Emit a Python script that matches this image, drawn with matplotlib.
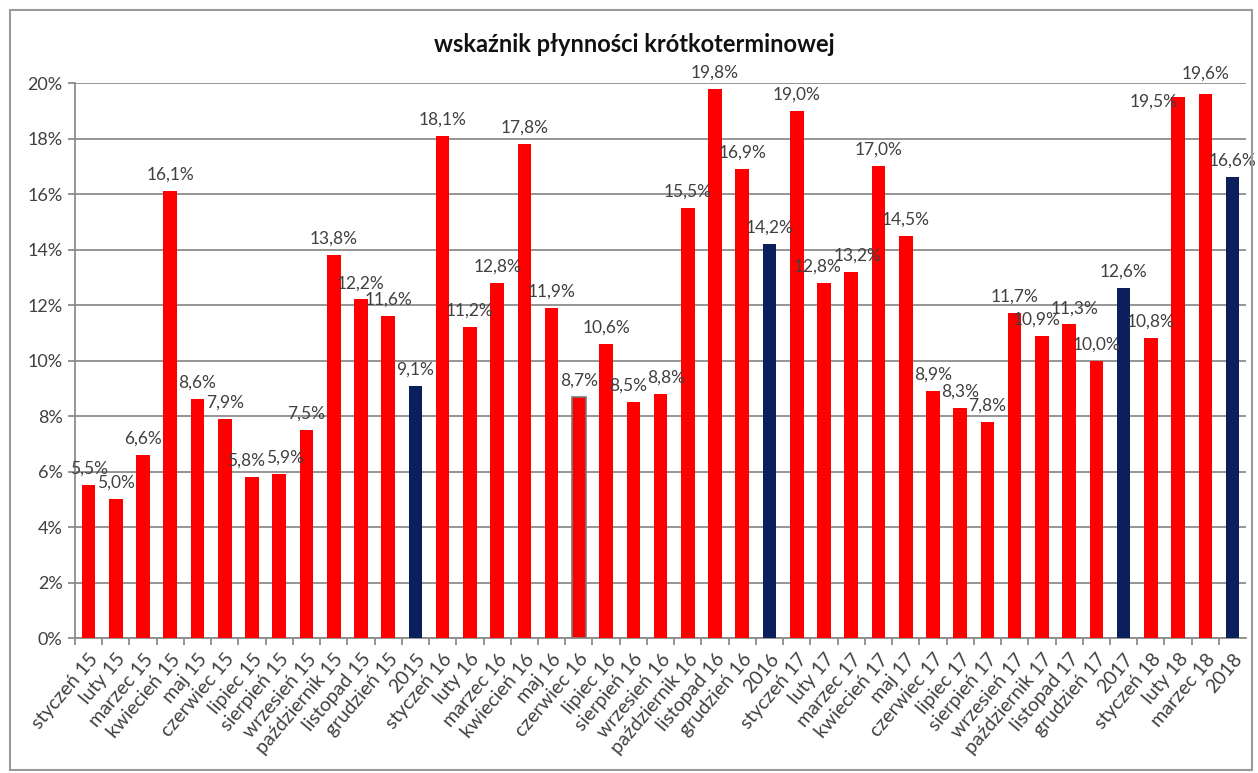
import matplotlib
matplotlib.use("Agg")
import matplotlib.pyplot as plt
from matplotlib.patches import Rectangle

categories = [
    "styczeń 15", "luty 15", "marzec 15", "kwiecień 15", "maj 15", "czerwiec 15",
    "lipiec 15", "sierpień 15", "wrzesień 15", "październik 15", "listopad 15",
    "grudzień 15", "2015",
    "styczeń 16", "luty 16", "marzec 16", "kwiecień 16", "maj 16", "czerwiec 16",
    "lipiec 16", "sierpień 16", "wrzesień 16", "październik 16", "listopad 16",
    "grudzień 16", "2016",
    "styczeń 17", "luty 17", "marzec 17", "kwiecień 17", "maj 17", "czerwiec 17",
    "lipiec 17", "sierpień 17", "wrzesień 17", "październik 17", "listopad 17",
    "grudzień 17", "2017",
    "styczeń 18", "luty 18", "marzec 18", "2018",
]
values = [
    5.5, 5.0, 6.6, 16.1, 8.6, 7.9, 5.8, 5.9, 7.5, 13.8, 12.2, 11.6, 9.1,
    18.1, 11.2, 12.8, 17.8, 11.9, 8.7, 10.6, 8.5, 8.8, 15.5, 19.8, 16.9, 14.2,
    19.0, 12.8, 13.2, 17.0, 14.5, 8.9, 8.3, 7.8, 11.7, 10.9, 11.3, 10.0, 12.6,
    10.8, 19.5, 19.6, 16.6,
]
yearly = {"2015", "2016", "2017", "2018"}
outlined = {"czerwiec 16"}

# label nudges (x in category units, y in percentage points) for crowded pairs
label_nudge = {
    "lipiec 15": (-0.22, 0.0), "sierpień 15": (0.22, 0.0),
    "sierpień 16": (-0.2, 0.0), "wrzesień 16": (0.2, 0.0),
    "luty 17": (-0.22, 0.0), "marzec 17": (0.22, 0.0),
    "październik 17": (-0.2, 0.0), "listopad 17": (0.2, 0.0),
    "luty 18": (-0.9, -0.75), "marzec 18": (0.0, 0.15),
}

RED = "#ff0000"
NAVY = "#0b1f5c"
TEXT = "#404040"
GRID = "#8c8c8c"

plt.rcParams["font.family"] = ["Lato", "DejaVu Sans"]

fig = plt.figure(figsize=(12.58, 7.73), dpi=100)
ax = fig.add_axes([0.0596, 0.1746, 0.931, 0.718])

x = list(range(len(categories)))
colors = [NAVY if c in yearly else RED for c in categories]
bars = ax.bar(x, values, width=0.5, color=colors, zorder=3)
for b, c in zip(bars, categories):
    if c in outlined:
        b.set_edgecolor("#7a7a7a")
        b.set_linewidth(1.2)

for xi, v, c in zip(x, values, categories):
    dx, dy = label_nudge.get(c, (0.0, 0.0))
    ax.text(xi + dx, v + 0.3 + dy, f"{v:.1f}%".replace(".", ","), ha="center",
            va="bottom", fontsize=12.5, color=TEXT, zorder=4)

ax.set_xlim(-0.5, len(categories) - 0.5)
ax.set_ylim(0, 20)
ax.set_yticks(range(0, 21, 2))
ax.set_yticklabels([f"{t}%" for t in range(0, 21, 2)], fontsize=13, color=TEXT)
ax.yaxis.grid(True, color=GRID, linewidth=1.3, zorder=0)

ax.set_xticks([i + 0.5 for i in x[:-1]] + [-0.5], minor=False)
ax.set_xticks(x, minor=True)
ax.set_xticklabels([""] * len(x), minor=False)
ax.set_xticklabels(categories, minor=True, rotation=50, ha="right",
                   rotation_mode="anchor", fontsize=14, color=TEXT)
ax.tick_params(axis="x", which="minor", length=0, pad=9)
ax.tick_params(axis="x", which="major", length=5, color=GRID, width=1.3)
ax.tick_params(axis="y", length=5, color=GRID, width=1.3, pad=4)

for s in ("top", "right"):
    ax.spines[s].set_visible(False)
for s in ("left", "bottom"):
    ax.spines[s].set_color(GRID)
    ax.spines[s].set_linewidth(1.3)

fig.text(0.504, 0.942, "wskaźnik płynności krótkoterminowej", ha="center",
         va="center", fontsize=17, fontweight="bold", color="#111111")

fig.patches.append(Rectangle((0.008, 0.004), 0.987, 0.983, transform=fig.transFigure,
                             fill=False, edgecolor="#9a9a9a", linewidth=1.5))

fig.savefig("out.png", dpi=100)
